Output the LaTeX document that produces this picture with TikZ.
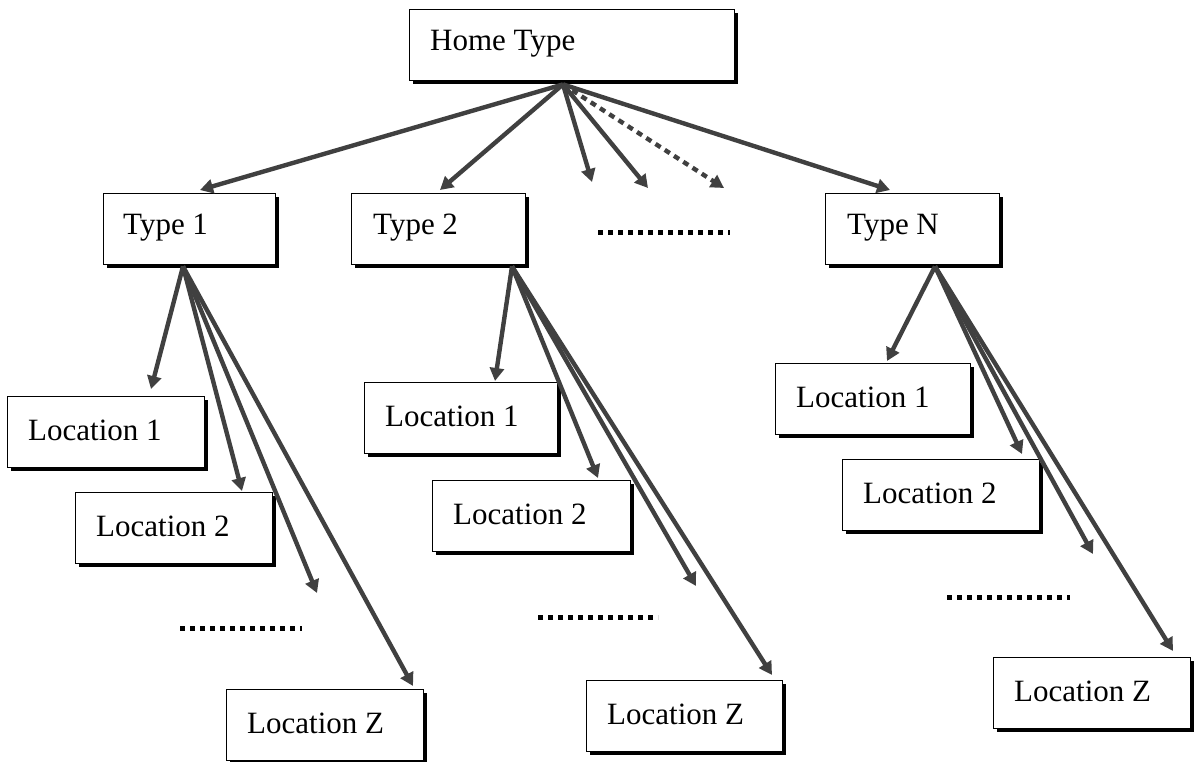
\documentclass[tikz,border=0pt]{standalone}
\usepackage{fontspec}
\setmainfont{Liberation Serif}
\usetikzlibrary{arrows.meta,shadows,calc}
\begin{document}
\begin{tikzpicture}[x=1pt,y=-1pt,
  box/.style={draw=black, line width=1.4pt, fill=white, rectangle, anchor=north west, inner sep=0pt,
    minimum height=71pt,
    drop shadow={shadow xshift=3pt, shadow yshift=-3.5pt, fill=black, opacity=1}},
  lbl/.style={anchor=base west, font=\fontsize{31}{37}\selectfont, inner sep=0pt},
  arr/.style={line width=4.4pt, draw=black!75, -{Triangle[length=13pt,width=14pt]}},
  dsh/.style={arr, dash pattern=on 6pt off 5pt},
  dotline/.style={line width=5pt, draw=black, dash pattern=on 5pt off 5pt}]
\useasboundingbox (0,0) rectangle (1196,762);
% boxes
\node[box, minimum width=325pt] (home) at (409,9) {};
\node[box, minimum width=172pt] (t1) at (103,193) {};
\node[box, minimum width=174pt] (t2) at (351,193) {};
\node[box, minimum width=174pt] (tN) at (825,193) {};
\node[box, minimum width=197pt] (l11) at (7,396) {};
\node[box, minimum width=197pt] (l12) at (75,492) {};
\node[box, minimum width=197pt] (l1Z) at (226,689) {};
\node[box, minimum width=193pt] (l21) at (364,382) {};
\node[box, minimum width=198pt] (l22) at (432,480) {};
\node[box, minimum width=196pt] (l2Z) at (586,680) {};
\node[box, minimum width=195pt] (lN1) at (775,363) {};
\node[box, minimum width=197pt] (lN2) at (842,459) {};
\node[box, minimum width=197pt] (lNZ) at (993,657) {};
% labels
\node[lbl] (home-t) at ($(home.north west)+(21,42)$) {Home Type};
\node[lbl] (t1-t) at ($(t1.north west)+(20,41)$) {Type 1};
\node[lbl] (t2-t) at ($(t2.north west)+(22,41)$) {Type 2};
\node[lbl] (tN-t) at ($(tN.north west)+(22,41)$) {Type N};
\foreach \b/\t in {l11/Location 1, l12/Location 2, l1Z/Location Z, l21/Location 1, l22/Location 2, l2Z/Location Z, lN1/Location 1, lN2/Location 2, lNZ/Location Z}{
  \node[lbl] (\b-t) at ($(\b.north west)+(21,44)$) {\t};
}
% dotted placeholders
\coordinate (dt1) at (598,232); \coordinate (dt2) at (730,232);
\coordinate (dl1) at (180,628); \coordinate (dl2) at (302,628);
\coordinate (dm1) at (538,617); \coordinate (dm2) at (658,617);
\coordinate (dr1) at (947,597); \coordinate (dr2) at (1070,597);
\draw[dotline] (dt1) -- (dt2);
\draw[dotline] (dl1) -- (dl2);
\draw[dotline] (dm1) -- (dm2);
\draw[dotline] (dr1) -- (dr2);
% free arrow ends
\coordinate (h1) at (592,182);
\coordinate (h2) at (648,188);
\coordinate (h3) at (724,188);
\coordinate (e1) at (317,593);
\coordinate (e2) at (696,586);
\coordinate (eN) at (1093,554);
% origins
\coordinate (ho) at ([xshift=154pt,yshift=-3pt]home.south west);
\coordinate (o1) at ([xshift=80pt,yshift=-1pt]t1.south west);
\coordinate (o2) at ([xshift=161pt,yshift=-1pt]t2.south west);
\coordinate (oN) at ([xshift=110pt,yshift=-1pt]tN.south west);
% arrows from Home Type
\draw[arr] (ho) -- ([xshift=97pt,yshift=3pt]t1.north west);
\draw[arr] (ho) -- ([xshift=89pt,yshift=3pt]t2.north west);
\draw[arr] (ho) -- (h1);
\draw[arr] (ho) -- (h2);
\draw[dsh] (ho) -- (h3);
\draw[arr] (ho) -- ([xshift=65pt,yshift=3pt]tN.north west);
% Type 1
\draw[arr] (o1) -- ([xshift=144pt,yshift=7pt]l11.north west);
\draw[arr] (o1) -- ([xshift=167pt,yshift=1pt]l12.north west);
\draw[arr] (o1) -- (e1);
\draw[arr] (o1) -- ([xshift=187pt,yshift=3pt]l1Z.north west);
% Type 2
\draw[arr] (o2) -- ([xshift=131pt,yshift=1pt]l21.north west);
\draw[arr] (o2) -- ([xshift=166pt,yshift=2pt]l22.north west);
\draw[arr] (o2) -- (e2);
\draw[arr] (o2) -- ([xshift=186pt,yshift=5pt]l2Z.north west);
% Type N
\draw[arr] (oN) -- ([xshift=112pt,yshift=2pt]lN1.north west);
\draw[arr] (oN) -- ([xshift=180pt,yshift=5pt]lN2.north west);
\draw[arr] (oN) -- (eN);
\draw[arr] (oN) -- ([xshift=180pt,yshift=6pt]lNZ.north west);
\end{tikzpicture}
\end{document}
